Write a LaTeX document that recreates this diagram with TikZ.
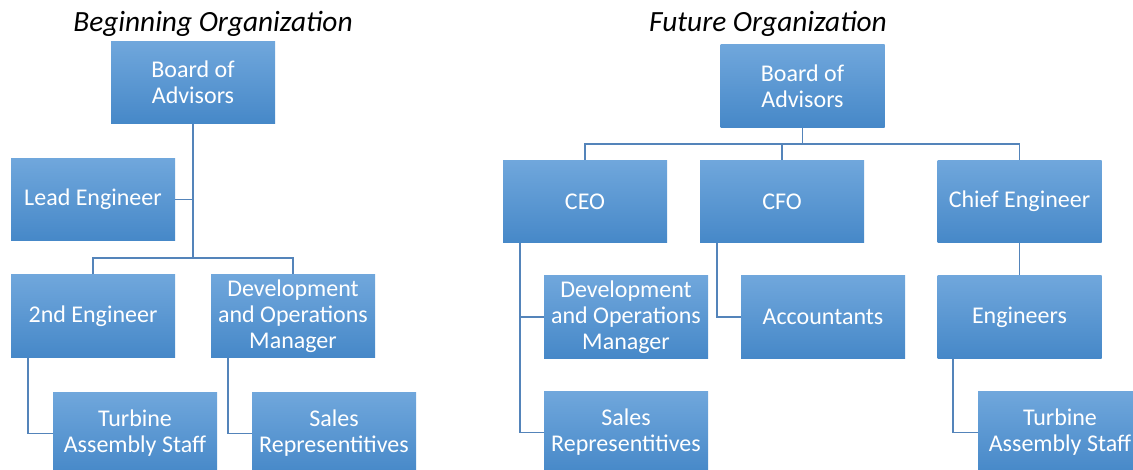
\documentclass[tikz,border=0pt]{standalone}
\usepackage{fontspec}
\setmainfont{Carlito}
\usetikzlibrary{calc}
\definecolor{boxtop}{RGB}{112,167,220}
\definecolor{boxmid}{RGB}{88,156,222}
\definecolor{boxbot}{RGB}{70,136,200}
\definecolor{linkcol}{RGB}{84,132,186}
\tikzset{
  orgbox/.style={rectangle, inner sep=0pt, minimum width=123pt, minimum height=62pt,
    top color=boxtop, middle color=boxmid, bottom color=boxbot,
    text=white, align=center, font=\fontsize{18}{19.6}\selectfont},
  link/.style={draw=linkcol, line width=1.3pt},
  heading/.style={font=\fontsize{22}{26}\selectfont\itshape, text=black}
}
\begin{document}
\begin{tikzpicture}[x=0.75pt,y=-0.75pt]
\useasboundingbox (0,0) rectangle (1133,470);
\clip (0,0) rectangle (1133,470);

% ---- left chart ----
\node[heading] (t1) at (213,24) {Beginning Organization};
\node[orgbox] (b1) at (193,82.5) {Board of\\Advisors};
\node[orgbox] (le) at (93,199.5) {Lead Engineer};
\node[orgbox] (e2) at (93,316) {2nd Engineer};
\node[orgbox] (dom) at (293,316) {Development\\and Operations\\Manager};
\node[orgbox] (tas) at (135,433.5) {Turbine\\Assembly Staff};
\node[orgbox] (sr) at (334,433.5) {Sales\\Representitives};

\coordinate (bus1) at (193,258);
\draw[link] (b1.south) -- (bus1);
\draw[link] (le.east) -- (le.east -| b1.south);
\draw[link] (e2.north) |- (bus1) -| (dom.north);
\draw[link] ($(e2.south west)+(17,0)$) |- (tas.west);
\draw[link] ($(dom.south west)+(17,0)$) |- (sr.west);

% ---- right chart ----
\node[heading] (t2) at (768,24) {Future Organization};
\node[orgbox] (b2) at (802.5,86) {Board of\\Advisors};
\node[orgbox] (ceo) at (585,201.5) {CEO};
\node[orgbox] (cfo) at (782,201.5) {CFO};
\node[orgbox] (ce) at (1019.5,201.5) {Chief Engineer};
\node[orgbox] (dom2) at (626,317) {Development\\and Operations\\Manager};
\node[orgbox] (acc) at (823,317) {Accountants};
\node[orgbox] (eng) at (1019.5,317) {Engineers};
\node[orgbox] (sr2) at (626,432.5) {Sales\\Representitives};
\node[orgbox] (tas2) at (1060,432.5) {Turbine\\Assembly Staff};

\coordinate (bus2) at (802.5,144);
\draw[link] (b2.south) -- (bus2);
\draw[link] (ceo.north) |- (bus2) -| (ce.north);
\draw[link] (cfo.north) -- (cfo.north |- bus2);
\draw[link] ($(ceo.south west)+(17,0)$) |- (sr2.west);
\draw[link] ($(ceo.south west)+(17,0)$) |- (dom2.west);
\draw[link] ($(cfo.south west)+(17,0)$) |- (acc.west);
\draw[link] (ce.south) -- (eng.north);
\draw[link] ($(eng.south west)+(16,0)$) |- (tas2.west);
\end{tikzpicture}
\end{document}
